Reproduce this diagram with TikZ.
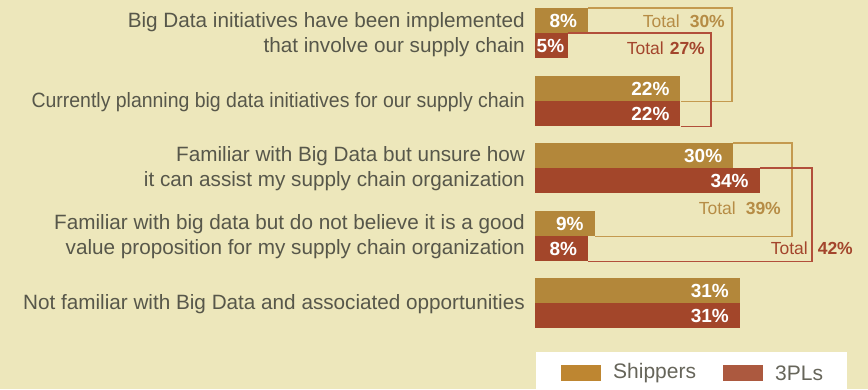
\documentclass[tikz,border=0pt]{standalone}
\usepackage{fontspec}
\usepackage{graphicx}
\setmainfont{Liberation Sans}
\usetikzlibrary{positioning}

\definecolor{bgc}{HTML}{EDE7BB}
\definecolor{shipc}{HTML}{B3873A}
\definecolor{tplc}{HTML}{A3462A}
\definecolor{oline}{HTML}{C49A4F}
\definecolor{rline}{HTML}{B24F3A}
\definecolor{otext}{HTML}{B68C45}
\definecolor{rtext}{HTML}{A3452C}
\definecolor{qtext}{HTML}{57574A}
\definecolor{ltext}{HTML}{66655A}

\begin{document}
\begin{tikzpicture}[x=1pt, y=-1pt,
    bar/.style={rectangle, minimum height=25pt, inner sep=0pt, anchor=north west},
    ship/.style={bar, fill=shipc},
    tpl/.style={bar, fill=tplc},
    pct/.style={text=white, inner sep=0pt, anchor=east, font=\fontsize{19}{20}\selectfont\bfseries},
    question/.style={text=qtext, inner sep=0pt, anchor=east, align=right, font=\fontsize{20.7}{25}\selectfont},
    total/.style={inner sep=0pt, anchor=east, font=\fontsize{17.5}{18}\selectfont},
    obox/.style={draw=oline, line width=1.8pt},
    rbox/.style={draw=rline, line width=1.8pt},
    swatch/.style={rectangle, minimum width=40pt, minimum height=16pt, inner sep=0pt},
    key/.style={text=ltext, inner sep=0pt, anchor=west, font=\fontsize{21}{22}\selectfont}]
  \useasboundingbox (0,0) rectangle (868,389);
  \fill[bgc] (0,0) rectangle (868,389);

  % bars: row name / top / shippers / 3PLs / gap of the 3PL label
  \foreach \n/\y/\s/\p/\g in {1/8/8/5/4, 2/76/22/22/11, 3/143/30/34/11, 4/211/9/8/11, 5/278/31/31/11} {
    \node[ship, minimum width=\s*6.6pt] (s\n) at (535,\y) {};
    \node[tpl, minimum width=\p*6.6pt] (p\n) at (535,\y+25) {};
    \node[pct] (sl\n) at ([xshift=-11pt]s\n.east) {\s\%};
    \node[pct] (pl\n) at ([xshift=-\g pt]p\n.east) {\p\%};
  }

  % questions
  \node[question] (q1) at (525,34.5) {Big Data initiatives have been implemented\\that involve our supply chain};
  \node[question] (q2) at (525,102.5) {\scalebox{0.94}[1]{Currently planning big data initiatives for our supply chain}};
  \node[question] (q3) at (525,169) {Familiar with Big Data but unsure how\\it can assist my supply chain organization};
  \node[question] (q4) at (525,237) {Familiar with big data but do not believe it is a good\\value proposition for my supply chain organization};
  \node[question] (q5) at (525,304) {Not familiar with Big Data and associated opportunities};

  % total boxes
  \coordinate (o1) at (732,0);
  \coordinate (r1) at (711,0);
  \coordinate (o2) at (792,0);
  \coordinate (r2) at (812,0);
  \draw[obox] (s1.north east) -| (o1 |- s2.south) -- (s2.south east);
  \draw[rbox] (p1.north east) -| (r1 |- p2.south) -- (p2.south east);
  \draw[obox] (s3.north east) -| (o2 |- s4.south) -- (s4.south east);
  \draw[rbox] (p3.north east) -| (r2 |- p4.south) -- (p4.south east);

  \node[total, text=otext] (t1) at (725,21) {Total\hspace{10pt}\textbf{30\%}};
  \node[total, text=rtext] (t2) at (705,48) {Total\hspace{6pt}\textbf{27\%}};
  \node[total, text=otext] (t3) at (781,208) {Total\hspace{10pt}\textbf{39\%}};
  \node[total, text=rtext] (t4) at (853,248) {Total\hspace{10pt}\textbf{42\%}};

  % legend
  \fill[white] (536,352) rectangle (847,389);
  \node[swatch, fill=shipc!85!orange] (k1) at (581,373) {};
  \node[key] (k1t) at (613,373) {Shippers};
  \node[swatch, fill=tplc!90!white] (k2) at (743,373) {};
  \node[key] (k2t) at (775,373) {3PLs};
\end{tikzpicture}
\end{document}
